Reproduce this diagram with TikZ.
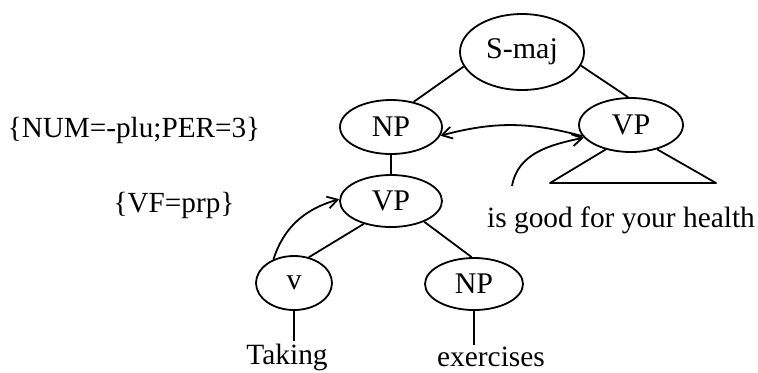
\documentclass[tikz,border=0pt]{standalone}
\usepackage{fontspec}
\setmainfont{Liberation Serif}
\usetikzlibrary{shapes.geometric,arrows.meta}
\tikzset{
  cat/.style={draw,ellipse,inner sep=0pt,line width=.9pt,font=\fontsize{15}{18}\selectfont},
  word/.style={inner sep=1pt,font=\fontsize{14.7}{17}\selectfont},
  feat/.style={inner sep=0pt,font=\fontsize{14.6}{17}\selectfont},
  edge/.style={line width=.9pt},
  link/.style={line width=.9pt,-{Straight Barb[length=5pt,width=6pt]}}
}
\begin{document}
\begin{tikzpicture}[x=0.5pt,y=-0.5pt]
\path[use as bounding box] (0,0) rectangle (758,372);
% categories
\node[cat,minimum width=62pt,minimum height=38pt] (smaj) at (522,52) {S-maj};
\node[cat,minimum width=51pt,minimum height=27pt] (np1) at (391,127) {NP};
\node[cat,minimum width=52pt,minimum height=27pt] (vpr) at (631,125) {VP};
\node[cat,minimum width=51pt,minimum height=26pt] (vpm) at (391,201) {VP};
\node[cat,minimum width=38pt,minimum height=27pt] (v) at (294,283) {v};
\node[cat,minimum width=49pt,minimum height=26pt] (np2) at (474,284) {NP};
% words and features
\node[word] (taking) at (287,357) {Taking};
\node[word] (exer) at (491,357) {exercises};
\node[word] (health) at (621,220) {is good for your health};
\node[feat] (numper) at (134,130) {\{NUM=-plu;PER=3\}};
\node[feat] (vf) at (174,205) {\{VF=prp\}};
% tree edges
\draw[edge] (smaj.194) -- (np1.48);
\draw[edge] (smaj.347) -- (vpr.96);
\draw[edge] (np1) -- (vpm);
\draw[edge] (vpm.220) -- (v.60);
\draw[edge] (vpm.328) -- (np2.95);
\draw[edge] (v.south) -- (v.south |- taking.north);
\draw[edge] (np2.south) -- (np2.south |- exer.north);
% subtree under VP
\coordinate (tl) at (550,183);
\coordinate (tr) at (716,183);
\draw[edge,line join=round] (vpr.224) -- (tl) -- (tr) -- (vpr.317);
% agreement links
\coordinate (hs) at (512,186);
\draw[link] (vpr.193) to[bend right=15] (np1.350);
\draw[link] (hs) to[out=80,in=192] (vpr.195);
\draw[link] (v.131) to[out=72,in=196] (vpm.178);
\end{tikzpicture}
\end{document}
